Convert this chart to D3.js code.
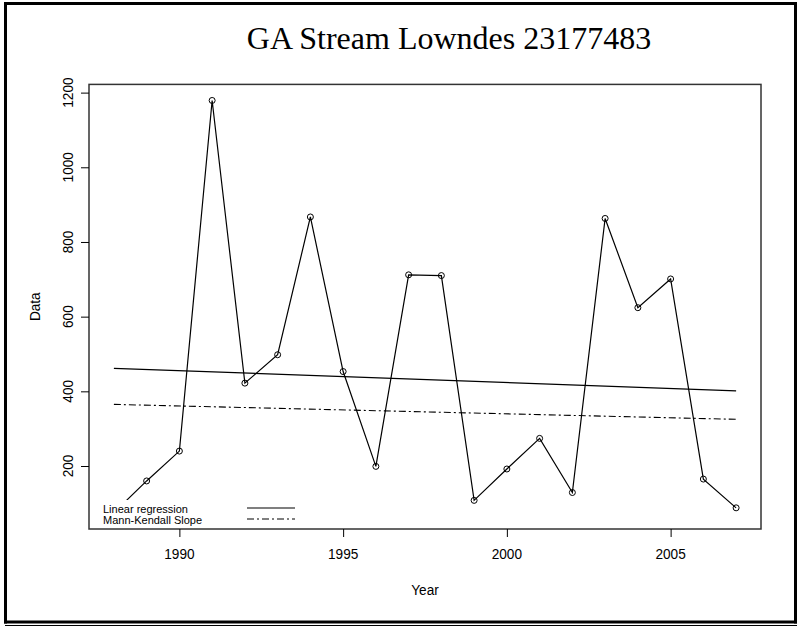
<!DOCTYPE html>
<html><head><meta charset="utf-8">
<script src="https://cdn.jsdelivr.net/npm/d3@7"></script>
<style>body{margin:0;background:#fff}svg{display:block}</style>
</head><body>
<svg id="c" width="799" height="627"></svg>
<script>
const years = [1988,1989,1990,1991,1992,1993,1994,1995,1996,1997,1998,1999,2000,2001,2002,2003,2004,2005,2006,2007];
const values = [75,160,240,1179,422,498,867,453,199,712,710,108,192,274,129,863,624,701,165,88];
const linearRegression = [461.7, 401];   // at first and last year
const mannKendall = [365, 325];
const yTicks = [200,400,600,800,1000,1200];
const xTicks = [1990,1995,2000,2005];
const legendLabels = ["Linear regression","Mann-Kendall Slope"];
const title = "GA Stream Lowndes 23177483";

const svg = d3.select("#c");
const SANS = "'Liberation Sans',Arial,sans-serif";
const L=89,R=761,T=84.4,B=529;
const x = d3.scaleLinear().domain([1987.24,2007.76]).range([L,R]);
const y = d3.scaleLinear().domain([31.3,1222]).range([B,T]);

// outer frame
svg.append("line").attr("x1",5.5).attr("x2",5.5).attr("y1",2).attr("y2",623.5).attr("stroke","#000").attr("stroke-width",3);
svg.append("line").attr("x1",4).attr("x2",797).attr("y1",3.5).attr("y2",3.5).attr("stroke","#000").attr("stroke-width",3);
svg.append("line").attr("x1",795.5).attr("x2",795.5).attr("y1",2).attr("y2",623.5).attr("stroke","#000").attr("stroke-width",3);
svg.append("line").attr("x1",4).attr("x2",797).attr("y1",622).attr("y2",622).attr("stroke","#000").attr("stroke-width",3);
svg.append("line").attr("x1",5).attr("x2",797).attr("y1",625.5).attr("y2",625.5).attr("stroke","#000").attr("stroke-width",1);

// title
svg.append("text").attr("x",449).attr("y",49).attr("text-anchor","middle")
  .attr("font-family","'Liberation Serif','Times New Roman',serif").attr("font-size",32).text(title);

// data line + points
const line = d3.line().x((d,i)=>x(years[i])).y(d=>y(d));
svg.append("path").datum(values).attr("d",line).attr("fill","none").attr("stroke","#000").attr("stroke-width",1.2);
svg.selectAll("circle.pt").data(values).enter().append("circle").attr("class","pt")
  .attr("cx",(d,i)=>x(years[i])).attr("cy",d=>y(d)).attr("r",3)
  .attr("fill","none").attr("stroke","#000").attr("stroke-width",1);

// trend lines
const x0 = years[0], x1 = years[years.length-1];
svg.append("line").attr("x1",x(x0)).attr("x2",x(x1)).attr("y1",y(linearRegression[0])).attr("y2",y(linearRegression[1]))
  .attr("stroke","#000").attr("stroke-width",1.2);
svg.append("line").attr("x1",x(x0)).attr("x2",x(x1)).attr("y1",y(mannKendall[0])).attr("y2",y(mannKendall[1]))
  .attr("stroke","#000").attr("stroke-width",1.1).attr("stroke-dasharray","7,3,2,3");

// legend (white background)
const lg = svg.append("g");
lg.append("rect").attr("x",91).attr("y",500).attr("width",214).attr("height",28).attr("fill","#fff");
legendLabels.forEach((t,i)=>{
  const yy = 512.5 + i*11;
  lg.append("text").attr("x",103).attr("y",yy).attr("font-family",SANS)
    .attr("font-size",11).text(t);
  const ln = lg.append("line").attr("x1",247).attr("x2",295).attr("y1",yy-4.5).attr("y2",yy-4.5)
    .attr("stroke","#000").attr("stroke-width",1.1);
  if(i===1) ln.attr("stroke-dasharray","7,3,2,3");
});

// box
svg.append("rect").attr("x",L).attr("y",T).attr("width",R-L).attr("height",B-T)
  .attr("fill","none").attr("stroke","#333").attr("stroke-width",1.5);

// axes
const ya = svg.append("g").attr("transform",`translate(${L},0)`)
  .call(d3.axisLeft(y).tickValues(yTicks).tickSize(8).tickFormat(""));
ya.select(".domain").remove();
ya.selectAll(".tick line").attr("stroke","#000");
yTicks.forEach(v=>{
  svg.append("text").attr("transform",`translate(73,${y(v)}) rotate(-90) scale(0.88,1)`).attr("text-anchor","middle")
    .attr("font-family",SANS).attr("font-size",15.5).text(v);
});
const xa = svg.append("g").attr("transform",`translate(0,${B})`)
  .call(d3.axisBottom(x).tickValues(xTicks).tickSize(8).tickFormat(""));
xa.select(".domain").remove();
xa.selectAll(".tick line").attr("stroke","#000");
xTicks.forEach(v=>{
  svg.append("text").attr("transform",`translate(${x(v)},559) scale(0.88,1)`).attr("text-anchor","middle")
    .attr("font-family",SANS).attr("font-size",15.5).text(v);
});

// axis titles
svg.append("text").attr("transform",`translate(${(L+R)/2},595) scale(0.88,1)`).attr("text-anchor","middle")
  .attr("font-family",SANS).attr("font-size",15.5).text("Year");
svg.append("text").attr("transform",`translate(40,${(T+B)/2}) rotate(-90) scale(0.88,1)`).attr("text-anchor","middle")
  .attr("font-family",SANS).attr("font-size",15.5).text("Data");
</script>
</body></html>
